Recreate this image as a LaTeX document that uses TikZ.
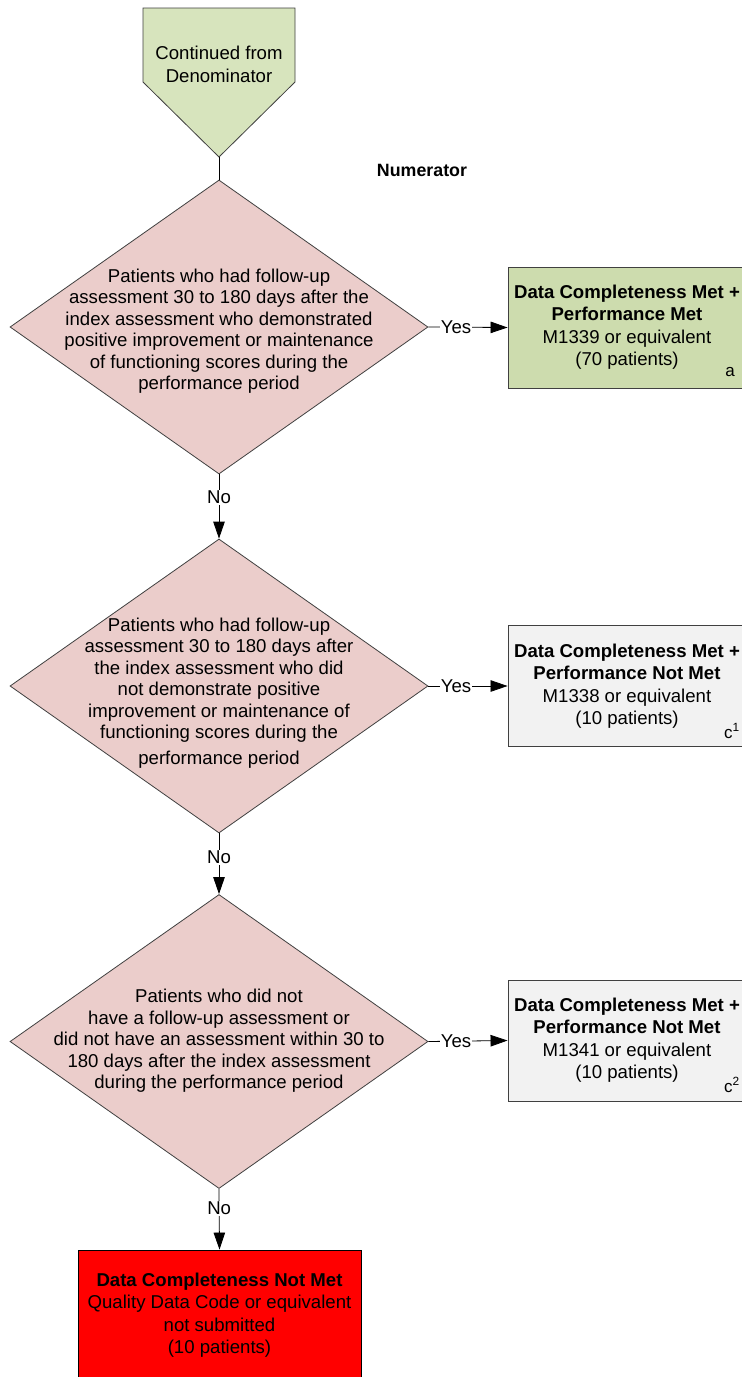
\documentclass[tikz,border=0pt]{standalone}
\usepackage{fontspec}
\setmainfont{Liberation Sans}
\usetikzlibrary{shapes.geometric,arrows.meta}
\definecolor{pentgreen}{HTML}{D7E4BD}
\definecolor{boxgreen}{HTML}{CDDCAE}
\definecolor{diapink}{HTML}{EBCDCB}
\definecolor{boxgray}{HTML}{F2F2F2}
\definecolor{edgecol}{HTML}{404040}
\begin{document}
\begin{tikzpicture}[x=1pt,y=-1pt,
  dia/.style={shape=diamond, draw=edgecol, fill=diapink, minimum width=418pt, minimum height=294pt, inner sep=0pt, line width=0.8pt},
  diatext/.style={align=center, font=\fontsize{18.6}{21.5}\selectfont, inner sep=0pt},
  outbox/.style={draw=edgecol, line width=0.9pt, minimum width=238pt, minimum height=121pt, inner sep=0pt},
  boxtext/.style={align=center, font=\fontsize{18.6}{22.4}\selectfont, inner sep=0pt},
  conn/.style={draw=black, line width=0.8pt},
  arr/.style={conn, -{Triangle[length=17pt,width=11.5pt]}},
  lbl/.style={fill=white, inner sep=1pt, font=\fontsize{18.6}{21}\selectfont},
  supl/.style={font=\fontsize{17}{20}\selectfont, inner sep=0pt},
  ]
\path[use as bounding box, clip] (0,0) rectangle (742,1377);
\fill[white] (0,0) rectangle (742,1377);

% off-page connector
\draw[draw=edgecol, fill=pentgreen, line width=0.8pt] (143,8) -- (295,8) -- (295,82) -- (219,157) -- (143,82) -- cycle;
\coordinate (ptip) at (219,157);
\node[align=center, font=\fontsize{18.6}{23}\selectfont, inner sep=0pt] (cont) at (219,64) {Continued from\\Denominator};

\node[font=\bfseries\fontsize{17.8}{20}\selectfont, inner sep=0pt] (numer) at (422,170) {Numerator};

% diamonds
\node[dia] (d1) at (219,327) {};
\node[diatext] (d1t) at (219,331) {Patients who had follow-up\\assessment 30 to 180 days after the\\index assessment who demonstrated\\positive improvement or maintenance\\of functioning scores during the\\performance period};

\node[dia] (d2) at (219,686) {};
\node[diatext] (d2t) at (219,693) {Patients who had follow-up\\assessment 30 to 180 days after\\the index assessment who did\\not demonstrate positive\\improvement or maintenance of\\functioning scores during the\\[4pt]performance period};

\node[dia] (d3) at (219,1041.5) {};
\node[diatext] (d3t) at (219,1041) {Patients who did not\\have a follow-up assessment or\\did not have an assessment within 30 to\\180 days after the index assessment\\during the performance period};

% outcome boxes
\node[outbox, fill=boxgreen] (b1) at (627,327.5) {};
\node[boxtext] (b1t) at (627,327) {\textbf{Data Completeness Met +}\\\textbf{Performance Met}\\M1339 or equivalent\\(70 patients)};
\node[supl] (b1s) at (730,372) {a};

\node[outbox, fill=boxgray] (b2) at (627,686) {};
\node[boxtext] (b2t) at (627,686) {\textbf{Data Completeness Met +}\\\textbf{Performance Not Met}\\M1338 or equivalent\\(10 patients)};
\node[supl] (b2s) at (732,731) {c\textsuperscript{1}};

\node[outbox, fill=boxgray] (b3) at (627,1040.5) {};
\node[boxtext] (b3t) at (627,1040) {\textbf{Data Completeness Met +}\\\textbf{Performance Not Met}\\M1341 or equivalent\\(10 patients)};
\node[supl] (b3s) at (732,1085) {c\textsuperscript{2}};

\node[draw=black, line width=0.9pt, fill=red, minimum width=283pt, minimum height=130pt, inner sep=0pt] (red) at (219.5,1315) {};
\node[boxtext] (redt) at (219.5,1315) {\textbf{Data Completeness Not Met}\\Quality Data Code or equivalent\\not submitted\\(10 patients)};

% connectors
\draw[conn] (ptip) -- (d1.north);
\draw[arr] (d1.east) -- node[lbl, pos=0.35] {Yes} (b1.west);
\draw[arr] (d2.east) -- node[lbl, pos=0.35] {Yes} (b2.west);
\draw[arr] (d3.east) -- node[lbl, pos=0.35] {Yes} (b3.west);
\draw[arr] (d1.south) -- node[lbl, pos=0.36] {No} (d2.north);
\draw[arr] (d2.south) -- node[lbl, pos=0.4] {No} (d3.north);
\draw[arr] (d3.south) -- node[lbl, pos=0.32] {No} (red.north);
\end{tikzpicture}
\end{document}
